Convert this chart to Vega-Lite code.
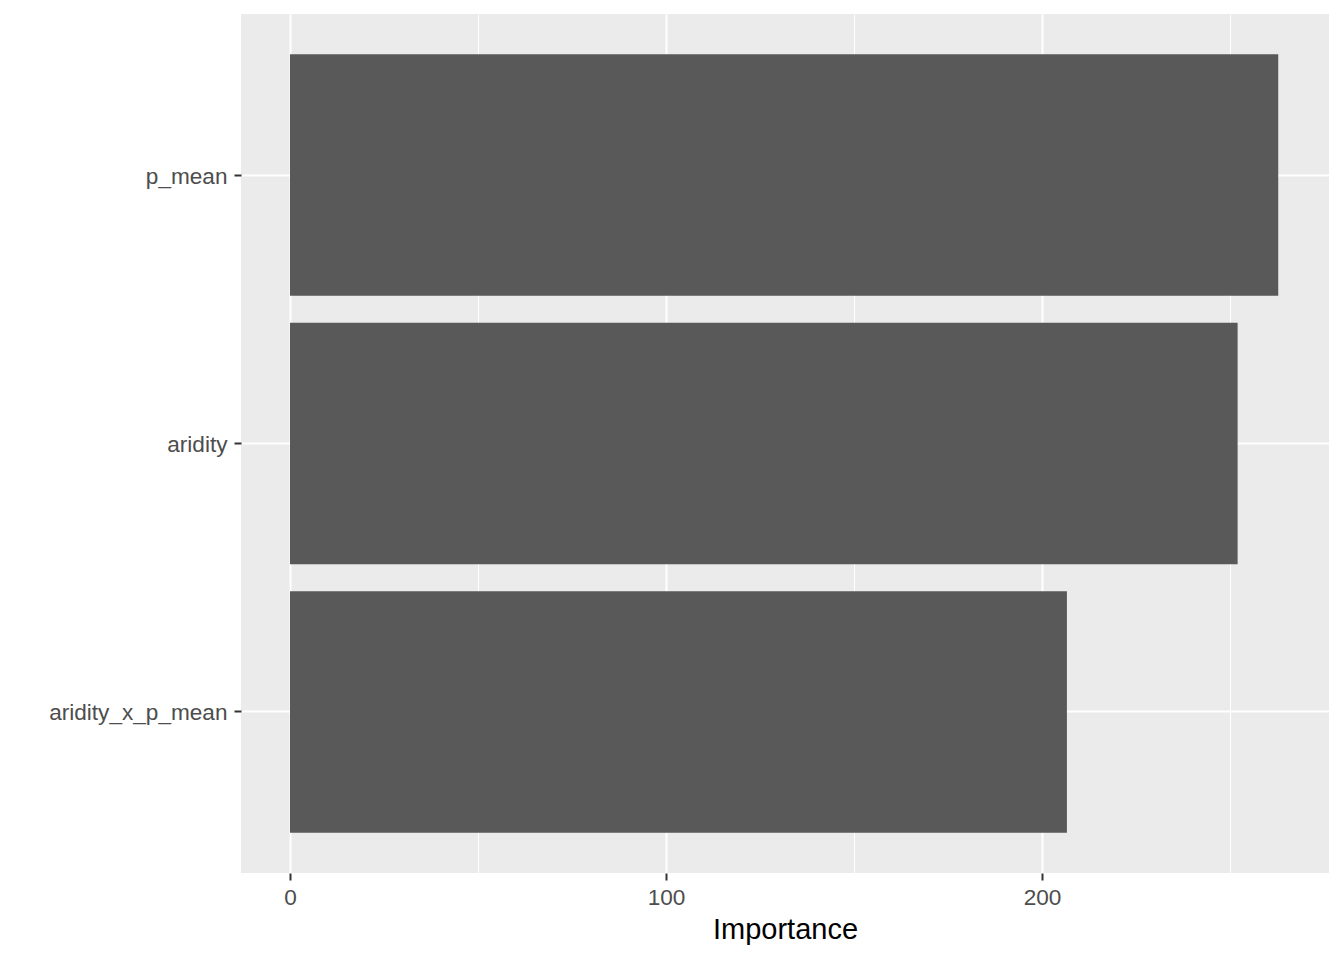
{
  "$schema": "https://vega.github.io/schema/vega-lite/v6.json",
  "width": 1088,
  "height": 859,
  "autosize": {"type": "none"},
  "padding": {"left": 241, "top": 14, "right": 15, "bottom": 87},
  "background": "white",
  "config": {
    "view": {"fill": "#EBEBEB", "stroke": null},
    "font": "Liberation Sans"
  },
  "data": {
    "values": [
      {"variable": "p_mean", "importance": 262.8},
      {"variable": "aridity", "importance": 252.0},
      {"variable": "aridity_x_p_mean", "importance": 206.6}
    ]
  },
  "mark": {"type": "bar", "color": "#595959"},
  "encoding": {
    "y": {
      "field": "variable",
      "type": "nominal",
      "sort": ["p_mean", "aridity", "aridity_x_p_mean"],
      "scale": {"paddingInner": 0.1, "paddingOuter": 0.15},
      "axis": {
        "title": null,
        "domain": false,
        "grid": true,
        "gridColor": "white",
        "gridWidth": 2,
        "tickColor": "#333333",
        "tickSize": 7,
        "tickWidth": 2,
        "labelPadding": 7,
        "labelOffset": 1.5,
        "labelFontSize": 22.6,
        "labelColor": "#4D4D4D",
        "labelFont": "Liberation Sans"
      }
    },
    "x": {
      "field": "importance",
      "type": "quantitative",
      "scale": {"domain": [-13.03, 276.3], "nice": false, "zero": false},
      "axis": {
        "title": "Importance",
        "titleFontSize": 29,
        "titleFontWeight": "normal",
        "titleColor": "black",
        "titleFont": "Liberation Sans",
        "titlePadding": 7,
        "values": [0, 50, 100, 150, 200, 250],
        "labelExpr": "datum.value % 100 === 0 ? datum.label : ''",
        "domain": false,
        "grid": true,
        "gridColor": "white",
        "gridWidth": {"condition": {"test": "datum.value % 100 === 0", "value": 2}, "value": 1},
        "tickColor": "#333333",
        "tickSize": 7,
        "tickWidth": 2,
        "tickOpacity": {"condition": {"test": "datum.value % 100 === 0", "value": 1}, "value": 0},
        "labelPadding": 6,
        "labelFontSize": 22.6,
        "labelColor": "#4D4D4D",
        "labelFont": "Liberation Sans"
      }
    }
  }
}
